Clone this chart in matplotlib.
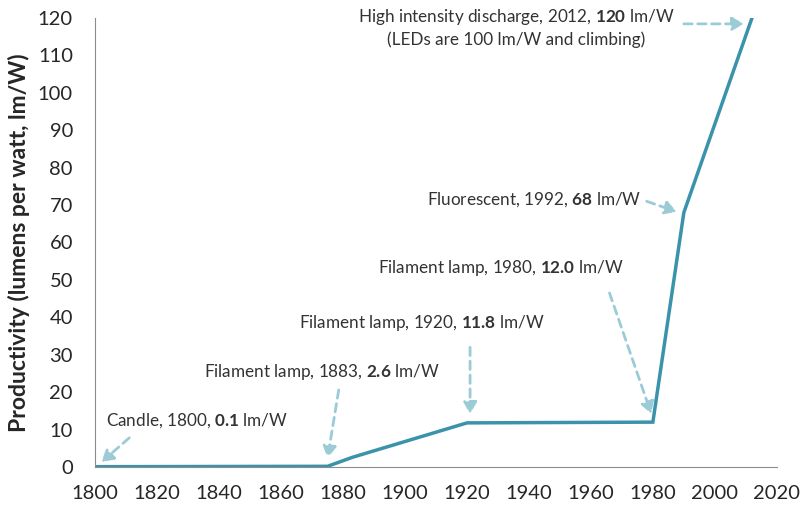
import matplotlib
matplotlib.use("Agg")
import matplotlib.pyplot as plt

plt.rcParams['font.family'] = ['Lato', 'DejaVu Sans']
plt.rcParams['mathtext.fontset'] = 'custom'
plt.rcParams['mathtext.rm'] = 'Lato'
plt.rcParams['mathtext.bf'] = 'Lato:bold'

# lighting productivity over time
years = [1800, 1875, 1883, 1920, 1980, 1990, 2012]
lm_per_w = [0.1, 0.2, 2.6, 11.8, 12.0, 68, 120]

labels = [
    r"Candle, 1800, $\mathbf{0.1}$ lm/W",
    r"Filament lamp, 1883, $\mathbf{2.6}$ lm/W",
    r"Filament lamp, 1920, $\mathbf{11.8}$ lm/W",
    r"Filament lamp, 1980, $\mathbf{12.0}$ lm/W",
    r"Fluorescent, 1992, $\mathbf{68}$ lm/W",
    "High intensity discharge, 2012, $\\mathbf{120}$ lm/W\n(LEDs are 100 lm/W and climbing)",
]
# arrow heads (x, y), text anchor (x, y), arrow tails (x, y)
heads = [(1802, 1.3), (1875, 2.4), (1921, 14.2), (1979.5, 14.2), (1987.7, 68.2), (2009.4, 118.4)]
text_pos = [(1803.5, 12.3), (1873, 25.4), (1905.5, 38.5), (1930.8, 53.2), (1941.6, 71.4), (1936, 117.4)]
tails = [(1811, 7.8), (1878.6, 20.6), (1921, 32), (1966, 46.5), (1978, 71), (1990, 118.4)]
text_ha = ['left', 'center', 'center', 'center', 'center', 'center']

line_color = '#3b93ab'
arrow_color = '#9ccbd8'

fig = plt.figure(figsize=(8, 5.11), dpi=100)
ax = fig.add_axes([0.119, 0.086, 0.852, 0.879])

ax.plot(years, lm_per_w, color=line_color, lw=2.5, solid_joinstyle='miter')

for lab, h, tp, tl, ha in zip(labels, heads, text_pos, tails, text_ha):
    ax.text(tp[0], tp[1], lab, ha=ha, va='center', fontsize=12.3,
            color='#333333', multialignment='center', linespacing=1.3)
    ax.annotate('', xy=h, xytext=tl,
                arrowprops=dict(arrowstyle='-|>,head_length=0.7,head_width=0.4',
                                color=arrow_color, lw=2, linestyle=(0, (3, 2)),
                                shrinkA=0, shrinkB=0))

ax.set_xlim(1800, 2020)
ax.set_ylim(0, 120)
ax.set_xticks(range(1800, 2021, 20))
ax.set_yticks(range(0, 121, 10))
ax.tick_params(axis='both', length=0, labelsize=14.5, colors='#262626')
ax.tick_params(axis='x', pad=13)
ax.tick_params(axis='y', pad=16)
for s in ['top', 'right']:
    ax.spines[s].set_visible(False)
for s in ['left', 'bottom']:
    ax.spines[s].set_color('#8c8c8c')
ax.set_ylabel('Productivity (lumens per watt, lm/W)', fontsize=16.5,
              fontweight='bold', color='#262626', labelpad=6)

fig.savefig('out.png', dpi=100)
